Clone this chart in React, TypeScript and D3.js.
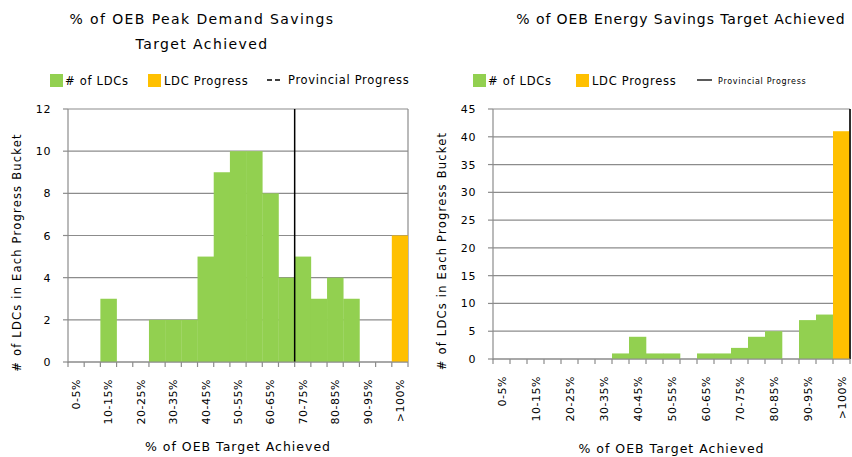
import React from "react";
import * as d3 from "d3";

// progress buckets (5% each), only every other one gets a label
const buckets = [
  "0-5%", "5-10%", "10-15%", "15-20%", "20-25%", "25-30%", "30-35%", "35-40%",
  "40-45%", "45-50%", "50-55%", "55-60%", "60-65%", "65-70%", "70-75%", "75-80%",
  "80-85%", "85-90%", "90-95%", "95-100%", ">100%",
];

// # of LDCs per bucket
const peakLdcs = [0, 0, 3, 0, 0, 2, 2, 2, 5, 9, 10, 10, 8, 4, 5, 3, 4, 3, 0, 0, 0];
const energyLdcs = [0, 0, 0, 0, 0, 0, 0, 1, 4, 1, 1, 0, 1, 1, 2, 4, 5, 0, 7, 8, 0];

// LDC progress bar
const peakProgress = { bucket: ">100%", value: 6 };
const energyProgress = { bucket: ">100%", value: 41 };

// provincial progress (bucket the line sits at the left edge of)
const peakProvincial = "70-75%";

const peakTicks = [0, 2, 4, 6, 8, 10, 12];
const energyTicks = [0, 5, 10, 15, 20, 25, 30, 35, 40, 45];

const GREEN = "#92D050";
const ORANGE = "#FFC000";
const GRID = "#8c8c8c";
const FONT = "'DejaVu Sans', Verdana, sans-serif";

type PanelProps = {
  x0: number; x1: number; y0: number; y1: number;
  values: number[];
  progress: { bucket: string; value: number };
  ticks: number[];
  provincialX: (x: d3.ScaleBand<string>) => number;
  yTitleX: number;
  tickLabelX: number;
  xTitleY: number;
};

function Panel({ x0, x1, y0, y1, values, progress, ticks, provincialX, yTitleX, tickLabelX, xTitleY }: PanelProps) {
  const x = d3.scaleBand<string>().domain(buckets).range([x0, x1]).padding(0);
  const y = d3.scaleLinear().domain([0, d3.max(ticks) as number]).range([y1, y0]);
  const bw = x.bandwidth();
  const px = provincialX(x);

  return (
    <g>
      {ticks.map((t) => (
        <g key={t}>
          <line x1={x0} x2={x1} y1={y(t)} y2={y(t)} stroke={GRID} strokeWidth={1.2} />
          <line x1={x0 - 5} x2={x0} y1={y(t)} y2={y(t)} stroke={GRID} strokeWidth={1.2} />
          <text x={tickLabelX} y={y(t) + 4} textAnchor="end" fontSize={11} fontFamily={FONT} letterSpacing={0.6} fill="#000">{t}</text>
        </g>
      ))}
      <line x1={x1} x2={x1} y1={y0} y2={y1} stroke={GRID} strokeWidth={1.2} />
      {values.map((v, i) => v > 0 && (
        <rect key={i} x={x(buckets[i])} y={y(v)} width={bw + 0.3} height={y1 - y(v)} fill={GREEN} />
      ))}
      <rect x={x(progress.bucket)} y={y(progress.value)} width={bw} height={y1 - y(progress.value)} fill={ORANGE} />
      <line x1={px} x2={px} y1={y0} y2={y1} stroke="#000" strokeWidth={1.5} />
      <line x1={x0} x2={x0} y1={y0} y2={y1 + 1} stroke={GRID} strokeWidth={1.2} />
      <line x1={x0} x2={x1} y1={y1} y2={y1} stroke={GRID} strokeWidth={1.2} />
      {d3.range(buckets.length + 1).map((i) => (
        <line key={i} x1={x0 + i * bw} x2={x0 + i * bw} y1={y1} y2={y1 + 5} stroke={GRID} strokeWidth={1.2} />
      ))}
      {buckets.map((b, i) => i % 2 === 0 && (
        <text key={b} transform={`translate(${(x(b) as number) + bw / 2 + 4},${y1 + 17}) rotate(-90)`}
          textAnchor="end" fontSize={11} fontFamily={FONT} letterSpacing={0.5} fill="#000">{b}</text>
      ))}
      <text x={(x0 + x1) / 2} y={xTitleY} textAnchor="middle" fontSize={12.5} fontFamily={FONT} letterSpacing={1} fill="#000">% of OEB Target Achieved</text>
      <text transform={`translate(${yTitleX},${(y0 + y1) / 2 + 17}) rotate(-90)`} textAnchor="middle"
        fontSize={11.5} fontFamily={FONT} letterSpacing={1.2} fill="#000">
        # of LDCs in Each Progress Bucket
      </text>
    </g>
  );
}

function Legend({ x, y, gap1, gap2, lineDash, provSize }: { x: number; y: number; gap1: number; gap2: number; lineDash?: string; provSize: number }) {
  return (
    <g fontFamily={FONT} fontSize={11.5} fill="#000" letterSpacing={0.7}>
      <rect x={x} y={y - 6} width={13} height={13} fill={GREEN} />
      <text x={x + 15} y={y + 5}># of LDCs</text>
      <rect x={x + gap1} y={y - 6} width={13} height={13} fill={ORANGE} />
      <text x={x + gap1 + 16} y={y + 5}>LDC Progress</text>
      <line x1={x + gap2} x2={x + gap2 + 15} y1={y} y2={y} stroke="#000" strokeWidth={1.3} strokeDasharray={lineDash} />
      <text x={x + gap2 + 21} y={y + 4} fontSize={provSize}>Provincial Progress</text>
    </g>
  );
}

export default function App() {
  return (
    <svg width={852} height={457} style={{ position: "absolute", left: 0, top: 0, background: "#fff" }}>
      <g fontSize={14} fontFamily={FONT} letterSpacing={1.4} textAnchor="middle">
        <text x={202} y={24}>% of OEB Peak Demand Savings</text>
        <text x={202} y={49}>Target Achieved</text>
        <text x={681} y={24} letterSpacing={0.9}>% of OEB Energy Savings Target Achieved</text>
      </g>
      <Legend x={50} y={80} gap1={98} gap2={217} lineDash="5,3" provSize={11.5} />
      <Panel x0={68} x1={408} y0={109} y1={362} values={peakLdcs} progress={peakProgress} ticks={peakTicks}
        provincialX={(x) => x(peakProvincial) as number} yTitleX={21} tickLabelX={51} xTitleY={451} />

      <Legend x={473} y={80} gap1={103} gap2={224} provSize={8} />
      <Panel x0={493} x1={850} y0={109} y1={359} values={energyLdcs} progress={energyProgress} ticks={energyTicks}
        provincialX={(x) => (x(">100%") as number) + x.bandwidth()} yTitleX={446} tickLabelX={476} xTitleY={453} />
    </svg>
  );
}
